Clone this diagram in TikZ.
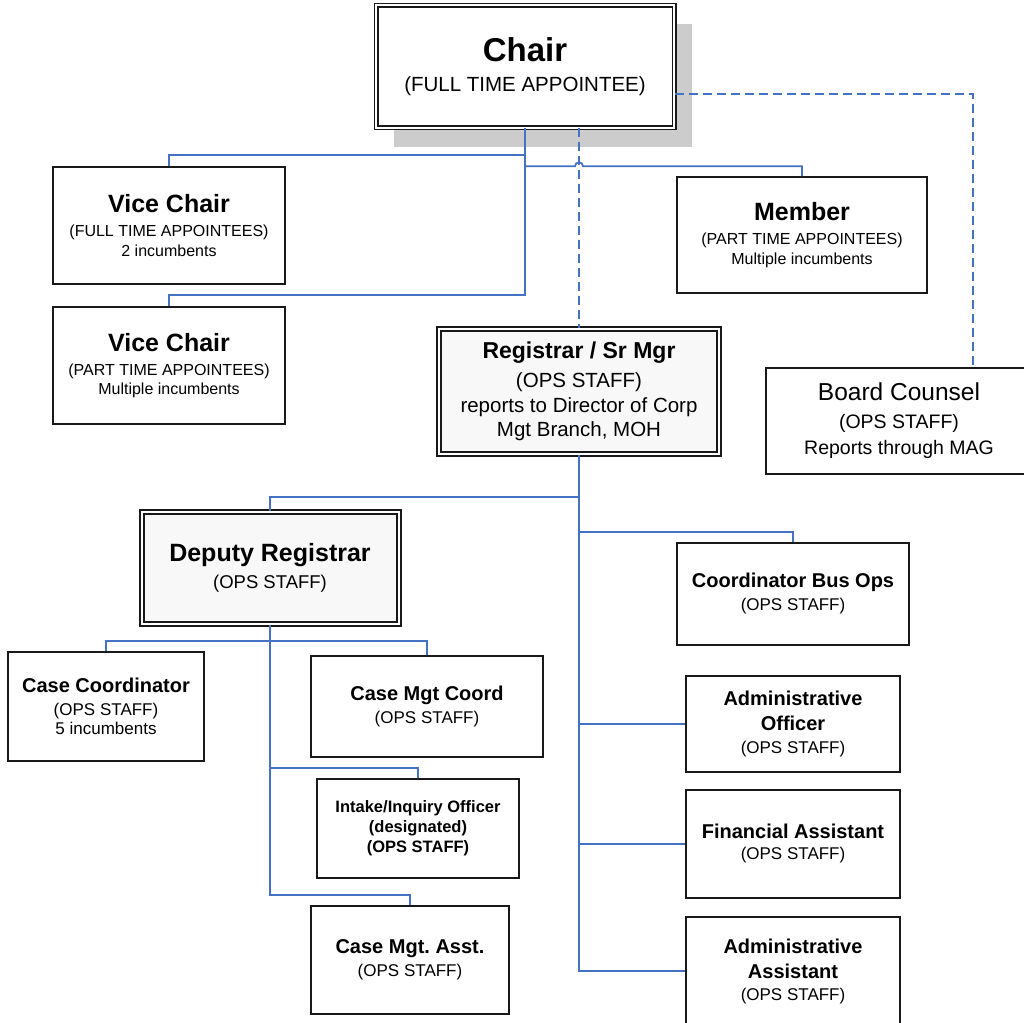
\documentclass[tikz,border=0pt]{standalone}
\usepackage{fontspec}
\setmainfont{Liberation Sans}
\usepackage{xcolor}
\usetikzlibrary{shadows,calc}
\frenchspacing

\definecolor{linkblue}{HTML}{4472C4}
\definecolor{shgray}{HTML}{CCCCCC}
\definecolor{boxfill}{HTML}{F8F8F8}

\newcommand{\btitle}[2]{{\fontsize{#1}{#1}\bfseries #2}}

\tikzset{
  box/.style={draw=black!90, line width=1.6pt, fill=white, align=center, inner sep=0pt,
    font=\fontsize{17}{20}\selectfont},
  dbox/.style={box, line width=1.6pt, double=white, double distance=2pt, fill=boxfill},
  link/.style={draw=linkblue, line width=1.8pt},
  dlink/.style={link, dash pattern=on 9pt off 5pt},
}

\begin{document}
\begin{tikzpicture}[x=1pt, y=-1pt]
    \useasboundingbox (0,0) rectangle (1024,1022);
    \fill[white] (0,0) rectangle (1024,1022);
    \clip (0,0) rectangle (1024,1022);

    \node[dbox, fill=white, line width=1.5pt, minimum width=298pt, minimum height=122pt,
      font=\fontsize{20.5}{30}\selectfont,
      drop shadow={fill=shgray, opacity=1, shadow xshift=18pt, shadow yshift=-19pt}]
      (chair) at (525,66.5) {\btitle{33}{Chair}\\ (FULL TIME APPOINTEE)};

    \node[box, minimum width=232pt, minimum height=117pt, font=\fontsize{16}{19.5}\selectfont]
      (vc1) at (169,225.5) {\btitle{25}{Vice Chair}\\[4.5pt] (FULL TIME APPOINTEES)\\ 2 incumbents};
    \node[box, minimum width=232pt, minimum height=117pt, font=\fontsize{16}{19.5}\selectfont]
      (vc2) at (169,365.5) {\btitle{25}{Vice Chair}\\[4.5pt] (PART TIME APPOINTEES)\\ Multiple incumbents};
    \node[box, minimum width=250pt, minimum height=116pt, font=\fontsize{16}{19.5}\selectfont]
      (member) at (802,235) {\btitle{25}{Member}\\[4.5pt] (PART TIME APPOINTEES)\\ Multiple incumbents};

    \node[dbox, line width=2pt, minimum width=280pt, minimum height=125pt,
      font=\fontsize{20.5}{24.5}\selectfont]
      (reg) at (579,391.5) {\btitle{23}{Registrar / Sr Mgr}\\[4.5pt] (OPS STAFF)\\
        reports to Director of Corp\\ Mgt Branch, MOH};
    \node[box, line width=2pt, minimum width=266pt, minimum height=106pt,
      font=\fontsize{19.5}{26}\selectfont]
      (bc) at (899,421) {{\fontsize{24.5}{24.5}\selectfont Board Counsel}\\[2pt] (OPS STAFF)\\
        Reports through MAG};

    \node[dbox, line width=2pt, minimum width=257pt, minimum height=112pt,
      font=\fontsize{18.5}{26}\selectfont]
      (dep) at (270,568) {\btitle{25}{Deputy Registrar}\\[1pt] (OPS STAFF)};

    \node[box, line width=2pt, minimum width=232pt, minimum height=102pt]
      (cbo) at (793,594) {\btitle{20}{Coordinator Bus Ops}\\[3pt] (OPS STAFF)};
    \node[box, minimum width=214pt, minimum height=96pt]
      (ao) at (793,724) {\btitle{20}{Administrative}\\[5pt] \btitle{20}{Officer}\\[3pt] (OPS STAFF)};
    \node[box, minimum width=214pt, minimum height=108pt]
      (fa) at (793,844) {\btitle{20}{Financial Assistant}\\[1pt] (OPS STAFF)};
    \node[box, minimum width=214pt, minimum height=108pt]
      (aa) at (793,971) {\btitle{20}{Administrative}\\[5pt] \btitle{20}{Assistant}\\[2pt] (OPS STAFF)};

    \node[box, minimum width=196pt, minimum height=109pt, font=\fontsize{17}{19.5}\selectfont]
      (cc) at (106,706.5) {\btitle{20}{Case Coordinator}\\[3.5pt] (OPS STAFF)\\ 5 incumbents};
    \node[box, minimum width=232pt, minimum height=101pt]
      (cmc) at (427,706.5) {\btitle{20}{Case Mgt Coord}\\[3pt] (OPS STAFF)};
    \node[box, minimum width=202pt, minimum height=99pt, font=\fontsize{16.5}{20}\bfseries]
      (io) at (418,828.5) {Intake/Inquiry Officer\\ (designated)\\ (OPS STAFF)};
    \node[box, minimum width=198pt, minimum height=108pt]
      (cma) at (410,960) {\btitle{20}{Case Mgt. Asst.}\\[3pt] (OPS STAFF)};

    \draw[link] (chair.south) -- ++(0,167) -| (vc2.north);
    \draw[link] (chair.south) ++(0,27) -| (vc1.north);
    \draw[link] ($(chair.south)+(0,38)$) -- ($(chair.south -| reg.north)+(-4,38)$)
      arc[start angle=180, end angle=0, radius=4pt] -| (member.north);
    \draw[dlink] (chair.south -| reg.north) -- (reg.north);
    \draw[dlink] ($(chair.east)+(0,27.5)$) -| ($(bc.north)+(74,0)$);

    \draw[link] (reg.south) -- ++(0,42) -| (dep.north);
    \draw[link] (reg.south) ++(0,77) -| (cbo.north);
    \draw[link] (reg.south) |- (aa.west);
    \draw[link] (reg.south |- ao.west) -- (ao.west);
    \draw[link] (reg.south |- fa.west) -- (fa.west);

    \draw[link] (cc.north) |- ($(dep.south)+(0,16)$) -| (cmc.north);
    \draw[link] (dep.south) -- ++(0,270) -| (cma.north);
    \draw[link] (dep.south) ++(0,143) -| (io.north);
\end{tikzpicture}
\end{document}
